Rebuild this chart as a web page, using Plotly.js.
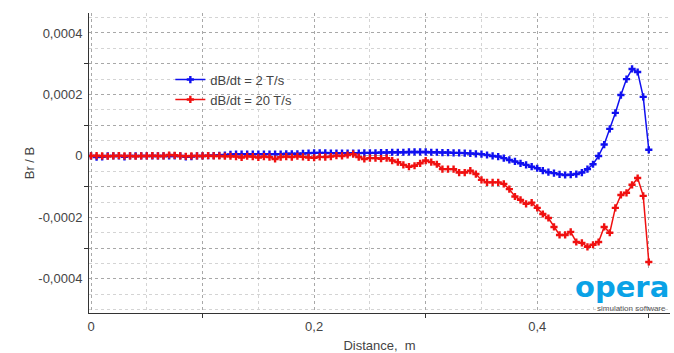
<!DOCTYPE html>
<html>
<head>
<meta charset="utf-8">
<script src="https://cdn.plot.ly/plotly-3.0.1.min.js"></script>
<style>html,body{margin:0;padding:0;background:#fff}#chart{width:674px;height:353px}</style>
</head>
<body>
<div id="chart"></div>
<script>
var distance = [0,0.005,0.01,0.015,0.02,0.025,0.03,0.035,0.04,0.045,0.05,0.055,0.06,0.065,0.07,0.075,0.08,0.085,0.09,0.095,
0.1,0.105,0.11,0.115,0.12,0.125,0.13,0.135,0.14,0.145,0.15,0.155,0.16,0.165,0.17,0.175,0.18,0.185,0.19,0.195,
0.2,0.205,0.21,0.215,0.22,0.225,0.23,0.235,0.24,0.245,0.25,0.255,0.26,0.265,0.27,0.275,0.28,0.285,0.29,0.295,
0.3,0.305,0.31,0.315,0.32,0.325,0.33,0.335,0.34,0.345,0.35,0.355,0.36,0.365,0.37,0.375,0.38,0.385,0.39,0.395,
0.4,0.405,0.41,0.415,0.42,0.425,0.43,0.435,0.44,0.445,0.45,0.455,0.46,0.465,0.47,0.475,0.48,0.485,0.49,0.495,0.5];

var series2Ts = [0,-4e-6,-3e-6,0,0,0,-3e-6,0,0,0,0,0,0,0,0,0,0,-3e-6,-2e-6,0,
0,1e-6,1e-6,2e-6,3e-6,
5e-6,6e-6,6e-6,6e-6,6e-6,6e-6,6e-6,6e-6,6e-6,6e-6,7e-6,7e-6,7e-6,8e-6,
9e-6,1e-5,1e-5,1e-5,9e-6,9e-6,9e-6,9e-6,9e-6,9e-6,1e-5,1e-5,1e-5,1.1e-5,
1.1e-5,1.2e-5,1.2e-5,1.2e-5,1.3e-5,1.3e-5,1.3e-5,1.3e-5,1.2e-5,1.2e-5,1.1e-5,1.1e-5,
1e-5,1e-5,9e-6,8e-6,7e-6,
6e-6,3e-6,0,-2e-6,-7e-6,-1.3e-5,-1.8e-5,-2.4e-5,-2.9e-5,-3.5e-5,-4e-5,-4.8e-5,-5.3e-5,-5.6e-5,-6e-5,-6.2e-5,-6.1e-5,-5.9e-5,-5.4e-5,-4.3e-5,-2.7e-5,
0,3.7e-5,8.8e-5,1.4e-4,1.98e-4,2.5e-4,2.83e-4,2.73e-4,1.92e-4,2e-5];

var series20Ts = [0,1e-6,0,-1e-6,0,1e-6,0,0,-1e-6,0,0,1e-6,0,0,3e-6,2e-6,0,-1e-6,0,0,0,1e-6,0,0,-1e-6,
-1e-6,-2e-6,-5e-6,-1e-6,-2e-6,-5e-6,-2e-6,-4e-6,-1e-5,-4e-6,-2e-6,-4e-6,-1e-6,-3e-6,-5e-6,-6e-6,-3e-6,-4e-6,
-2e-6,1e-6,0,3e-6,6e-6,-4e-6,-1e-5,-7e-6,-7e-6,-9e-6,-7e-6,-1.5e-5,-2e-5,-2.9e-5,-3.5e-5,-3.2e-5,-2.4e-5,-1.5e-5,-2e-5,-2.7e-5,
-4.3e-5,-4.3e-5,-4.3e-5,-5.4e-5,-5.4e-5,-4.8e-5,-5.9e-5,-7.8e-5,-8.6e-5,-8.6e-5,-8.6e-5,-9.1e-5,-1.08e-4,-1.32e-4,-1.43e-4,-1.56e-4,-1.52e-4,-1.69e-4,
-1.89e-4,-2.02e-4,-2.31e-4,-2.57e-4,-2.57e-4,-2.47e-4,-2.8e-4,-2.83e-4,-2.96e-4,-2.89e-4,-2.8e-4,-2.31e-4,-2.5e-4,-1.69e-4,-1.27e-4,-1.2e-4,-9.4e-5,-7.2e-5,-1.3e-4,-3.45e-4];

var seriesNames = ['dB/dt = 2 T/s', 'dB/dt = 20 T/s'];

var xRange = [-0.0018, 0.519];
var yRange = [-0.000511, 0.000465];
var xTickVals = [0,0.1,0.2,0.3,0.4,0.5];
var xTickText = ['0','','0,2','','0,4',''];
var xTickMarkVals = [0.1,0.3,0.5];
var yTickVals = [-0.0004,-0.0003,-0.0002,-0.0001,0,0.0001,0.0002,0.0003,0.0004];
var yTickText = ['-0,0004','','-0,0002','','0','','0,0002','','0,0004'];
var yTickMarkVals = [-0.0003,-0.0001,0.0001,0.0003];

var FONT = 'Liberation Sans, Arial, sans-serif';

var traces = [
  {x: distance, y: series2Ts, name: seriesNames[0], type: 'scatter', mode: 'lines+markers',
   line: {color: '#1010f0', width: 1.5}, marker: {symbol: 'cross', size: 6, color: '#1010f0'}},
  {x: distance, y: series20Ts, name: seriesNames[1], type: 'scatter', mode: 'lines+markers',
   xaxis: 'x2', yaxis: 'y2',
   line: {color: '#f01010', width: 1.5}, marker: {symbol: 'cross', size: 6, color: '#f01010'}}
];

var layout = {
  width: 674, height: 353,
  margin: {l: 89, r: 4, t: 13, b: 40},
  paper_bgcolor: '#fff', plot_bgcolor: '#fff',
  font: {family: FONT, size: 13, color: '#444'},
  showlegend: true,
  legend: {x: 0.14, y: 0.828, xanchor: 'left', yanchor: 'top', bgcolor: 'rgba(0,0,0,0)',
           font: {family: FONT, size: 13, color: '#444'}, itemwidth: 30, tracegroupgap: 4},
  xaxis: {
    range: xRange, tickmode: 'array', tickvals: xTickVals, ticktext: xTickText,
    ticks: '', showgrid: true, gridcolor: '#a8a8a8', griddash: 'dot', gridwidth: 1,
    minor: {tickmode: 'linear', tick0: 0, dtick: 0.05, showgrid: true, gridcolor: '#d4d4d4', griddash: 'dot', ticks: ''},
    showline: true, linecolor: '#333', linewidth: 1, zeroline: false, ticklabelstandoff: 1,
    tickfont: {family: FONT, size: 13, color: '#444'},
    title: {text: 'Distance,\u00a0 m', font: {family: FONT, size: 13, color: '#444'}, standoff: 8}
  },
  xaxis2: {
    overlaying: 'x', anchor: 'y2', side: 'bottom', range: xRange, tickmode: 'array', tickvals: xTickMarkVals,
    ticks: 'outside', ticklen: 4, tickcolor: '#333', showticklabels: false, showgrid: false, zeroline: false, showline: false
  },
  yaxis: {
    range: yRange, tickmode: 'array', tickvals: yTickVals, ticktext: yTickText,
    ticks: '', showgrid: true, gridcolor: '#a8a8a8', griddash: 'dot', gridwidth: 1,
    minor: {tickmode: 'linear', tick0: 0, dtick: 0.00005, showgrid: true, gridcolor: '#d4d4d4', griddash: 'dot', ticks: ''},
    showline: true, linecolor: '#333', linewidth: 1, zeroline: false, ticklabelstandoff: 3,
    tickfont: {family: FONT, size: 13, color: '#444'},
    title: {text: 'Br / B', font: {family: FONT, size: 13, color: '#444'}, standoff: 0}
  },
  yaxis2: {
    overlaying: 'y', anchor: 'x2', side: 'left', range: yRange, tickmode: 'array', tickvals: yTickMarkVals,
    ticks: 'outside', ticklen: 4, tickcolor: '#333', showticklabels: false, showgrid: false, zeroline: false, showline: false
  },
  annotations: [
    {xref: 'paper', yref: 'paper', x: 1, y: 0.026, xanchor: 'right', yanchor: 'bottom', showarrow: false,
     text: 'opera', font: {family: 'DejaVu Sans, sans-serif', size: 29, color: '#0aa2e6', weight: 700},
     bgcolor: '#fff', borderpad: 0},
    {xref: 'paper', yref: 'paper', x: 0.995, y: -0.004, xanchor: 'right', yanchor: 'bottom', showarrow: false,
     text: 'simulation software', font: {family: FONT, size: 8, color: '#555'}, borderpad: 0}
  ]
};

Plotly.newPlot('chart', traces, layout, {displayModeBar: false, staticPlot: true});
</script>
</body>
</html>
